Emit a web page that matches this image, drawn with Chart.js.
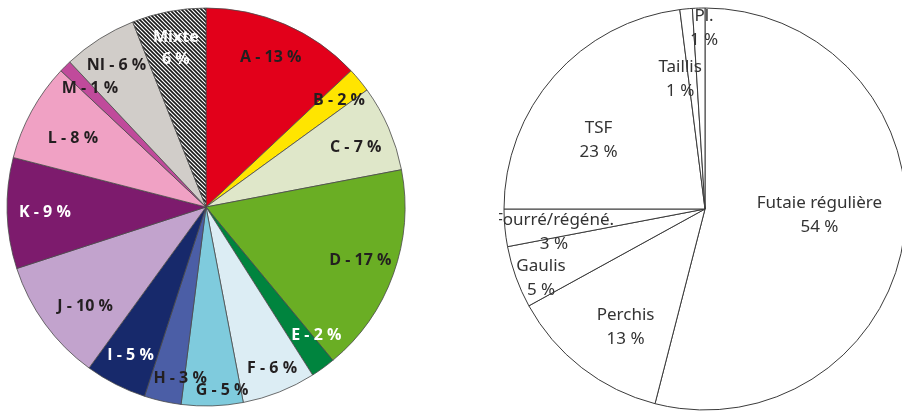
<!DOCTYPE html>
<html>
<head>
<meta charset="utf-8">
<script src="https://cdn.jsdelivr.net/npm/chart.js@4"></script>
<style>
  html, body { margin: 0; padding: 0; background: #fff; overflow: hidden; width: 902px; height: 411px; }
  .pie { position: absolute; }
  #leftBox { left: 0; top: 0; width: 412px; height: 414px; }
  #rightBox { left: 499px; top: 0; width: 412px; height: 418px; }
</style>
</head>
<body>
<div class="pie" id="leftBox"><canvas id="leftCanvas"></canvas></div>
<div class="pie" id="rightBox"><canvas id="rightCanvas"></canvas></div>
<script>
// left pie : types
const leftCodes = ["A", "B", "C", "D", "E", "F", "G", "H", "I", "J", "K", "L", "M", "NI", "Mixte"];
const leftValues = [13, 2, 7, 17, 2, 6, 5, 3, 5, 10, 9, 8, 1, 6, 6];

// right pie : structures
const rightNames = ["Futaie régulière", "Perchis", "Gaulis", "Fourré/régéné.", "TSF", "Taillis", "Pl."];
const rightValues = [54, 13, 5, 3, 23, 1, 1];

// styles
const leftColors = ["#e2001a", "#ffe500", "#dfe7c9", "#6aae24", "#00843e", "#dcedf4", "#7fcbdd",
  "#4b5ea6", "#17296b", "#c2a3cd", "#7d1b6d", "#f0a1c4", "#c04a9b", "#d1cdc9", "hatch"];
const leftTextColors = ["#231f20", "#231f20", "#231f20", "#231f20", "#fff", "#231f20", "#231f20",
  "#231f20", "#fff", "#231f20", "#fff", "#231f20", "#231f20", "#231f20", "#fff"];
// label placement : fraction of radius, angle shift in degrees
const leftLabelPos = [0.82, 0.855, 0.81, 0.82, 0.85, 0.875, 0.925, 0.87, 0.835, 0.785, 0.81, 0.753, 0.835, 0.84, 0.81];
const leftLabelShift = [0, 1, 1.6, -0.8, -4.7, -0.7, -3.2, -4, 0, -3.3, 0, -1.4, 0.7, 0, 0];
const rightLabelPos = [0.57, 0.71, 0.885, 0.76, 0.63, 0.66, 0.9];
const rightLabelShift = [-4.2, -4, -3, -3.3, -8.6, -5.4, 1.5];

function hatchPattern(){
  const c = document.createElement("canvas");
  c.width = 4; c.height = 4;
  const g = c.getContext("2d");
  g.fillStyle = "#fff";
  g.fillRect(0, 0, 4, 4);
  g.strokeStyle = "#1a1a1a";
  g.lineWidth = 1.6;
  g.beginPath();
  g.moveTo(-1, -1); g.lineTo(5, 5);
  g.moveTo(-1, 3); g.lineTo(1, 5);
  g.moveTo(3, -1); g.lineTo(5, 1);
  g.stroke();
  return g.createPattern(c, "repeat");
}

const sliceLabels = {
  id: "sliceLabels",
  afterDatasetsDraw(chart, args, opts){
    const ctx = chart.ctx;
    const meta = chart.getDatasetMeta(0);
    ctx.save();
    ctx.textAlign = "center";
    ctx.textBaseline = "middle";
    ctx.font = opts.font;
    meta.data.forEach((arc, i) => {
      const p = arc.getProps(["x", "y", "startAngle", "endAngle", "outerRadius"], true);
      const mid = (p.startAngle + p.endAngle) / 2 + (opts.shift ? opts.shift[i] : 0) * Math.PI / 180;
      const r = p.outerRadius * opts.pos[i];
      const x = p.x + Math.cos(mid) * r;
      const y = p.y + Math.sin(mid) * r;
      const lines = opts.text(i);
      ctx.fillStyle = opts.colors(i);
      lines.forEach((t, k) => {
        ctx.fillText(t, x, y + (k - (lines.length - 1) / 2) * opts.lineHeight);
      });
    });
    ctx.restore();
  }
};

new Chart(document.querySelector("#leftCanvas"), {
  type: "pie",
  data: {
    labels: leftCodes,
    datasets: [{
      data: leftValues,
      backgroundColor: leftColors.map((c) => c == "hatch" ? hatchPattern() : c),
      borderColor: "#4a4a4a",
      borderWidth: 0.8,
    }],
  },
  options: {
    responsive: true,
    maintainAspectRatio: false,
    animation: false,
    radius: 199,
    plugins: {
      legend: { display: false },
      tooltip: { enabled: false },
      sliceLabels: {
        font: "bold 16px 'Open Sans'",
        lineHeight: 22,
        pos: leftLabelPos,
        shift: leftLabelShift,
        colors: (i) => leftTextColors[i],
        text: (i) => leftCodes[i] == "Mixte" ? ["Mixte", leftValues[i] + " %"] : [leftCodes[i] + " - " + leftValues[i] + " %"],
      },
    },
  },
  plugins: [sliceLabels],
});

new Chart(document.querySelector("#rightCanvas"), {
  type: "pie",
  data: {
    labels: rightNames,
    datasets: [{
      data: rightValues,
      backgroundColor: "#fff",
      borderColor: "#3a3a3a",
      borderWidth: 1,
    }],
  },
  options: {
    responsive: true,
    maintainAspectRatio: false,
    animation: false,
    radius: 201,
    plugins: {
      legend: { display: false },
      tooltip: { enabled: false },
      sliceLabels: {
        font: "17px 'Noto Sans'",
        lineHeight: 24,
        pos: rightLabelPos,
        shift: rightLabelShift,
        colors: () => "#333",
        text: (i) => [rightNames[i], rightValues[i] + " %"],
      },
    },
  },
  plugins: [sliceLabels],
});
</script>
</body>
</html>
